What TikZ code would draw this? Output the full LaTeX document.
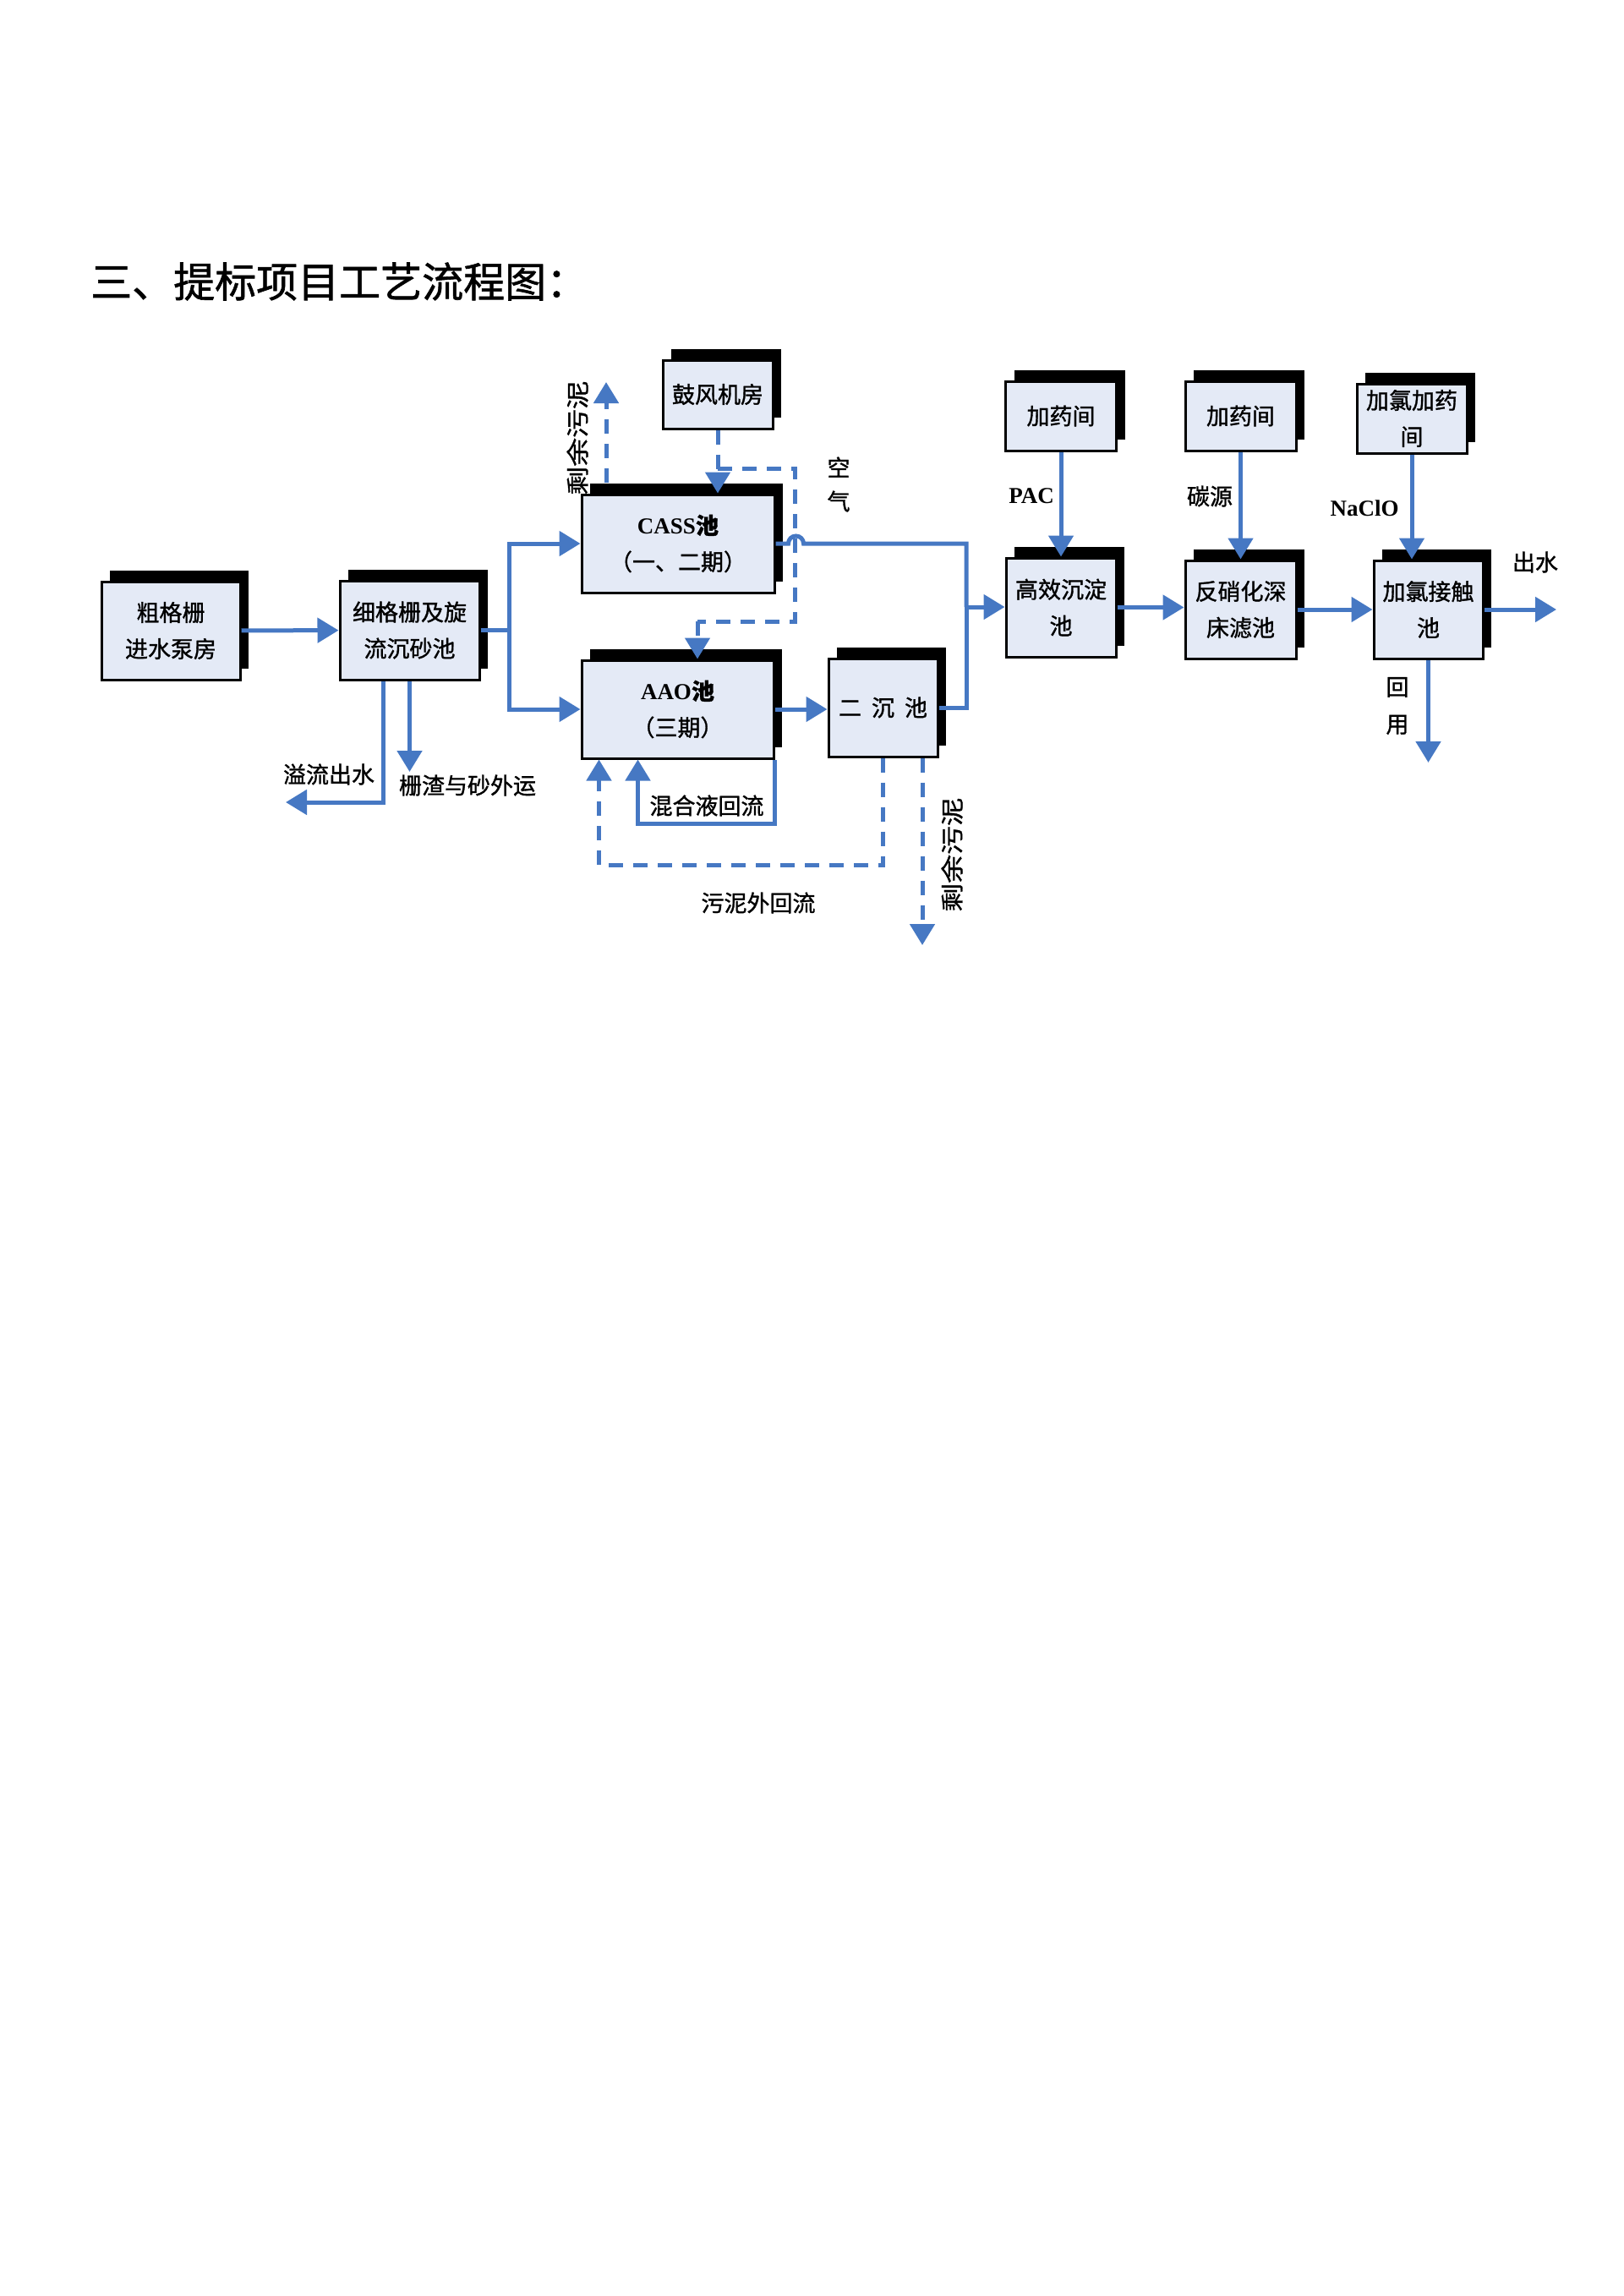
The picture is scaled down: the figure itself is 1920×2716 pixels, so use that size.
\documentclass[tikz,border=0pt]{standalone}
\usepackage{fontspec}
\setmainfont{Noto Sans CJK SC}[FakeBold=1.2]
\newfontfamily\lat{Liberation Serif}
\newfontfamily\widecjk{Noto Sans CJK SC}[FakeStretch=1.25, FakeBold=1.2]
\usepackage{tikz}
\usetikzlibrary{arrows.meta,positioning,calc,shadows}
\definecolor{flowblue}{RGB}{70,120,195}
\definecolor{boxfill}{RGB}{228,234,246}

\begin{document}
\begin{tikzpicture}[x=1pt, y=-1pt,
    box/.style={rectangle, draw, line width=3pt, fill=boxfill, inner sep=0pt, align=center, font=\fontsize{27}{43}\selectfont, general shadow={fill=black, shadow xshift=10pt, shadow yshift=13pt}},
    lbl/.style={inner sep=0pt, align=center, font=\fontsize{27}{40}\selectfont},
    flow/.style={draw=flowblue, line width=5pt},
    arrow/.style={flow, -{Triangle[length=25pt, width=29pt]}},
    dashflow/.style={flow, dash pattern=on 17pt off 12pt},
    dasharrow/.style={dashflow, -{Triangle[length=25pt, width=29pt]}}
]
\useasboundingbox (0,0) rectangle (1920,2716);

\node[anchor=west, inner sep=0pt, font=\fontsize{49}{49}\selectfont] (title) at (107,333) {三、提标项目工艺流程图：};

\node[box, minimum width=164pt, minimum height=116pt] (coarse) at (202,746) {粗格栅\\进水泵房};
\node[box, minimum width=165pt, minimum height=117pt] (fine) at (484.5,745.5) {细格栅及旋\\流沉砂池};
\node[box, minimum width=228pt, minimum height=116pt] (cass) at (802,643) {{\bfseries\lat CASS}{\bfseries 池}\\（一、二期）};
\node[box, minimum width=130pt, minimum height=81pt] (blower) at (849,466.5) {鼓风机房};
\node[box, minimum width=227pt, minimum height=116pt] (aao) at (801.5,839) {{\bfseries\lat AAO}{\bfseries 池}\\（三期）};
\node[box, minimum width=129pt, minimum height=116pt] (clar) at (1044.5,837) {二\hspace{12pt}沉\hspace{12pt}池};
\node[box, minimum width=130pt, minimum height=117pt] (hds) at (1255,718.5) {高效沉淀\\池};
\node[box, minimum width=131pt, minimum height=82pt, above=124pt of hds] (dose1) {加药间};
\node[box, minimum width=131pt, minimum height=116pt] (filter) at (1467.5,721) {反硝化深\\床滤池};
\node[box, minimum width=131pt, minimum height=82pt, above=127pt of filter] (dose2) {加药间};
\node[box, minimum width=130pt, minimum height=82pt] (dose3) at (1670,495) {加氯加药\\间};
\node[box, minimum width=129pt, minimum height=116pt] (contact) at (1689.5,721) {加氯接触\\池};

\coordinate (split) at (602,745.5);
\coordinate (join) at (1143,718);
\coordinate (airsplit) at (849,554);
\coordinate (aircorner) at (940,735);
\coordinate (sludgeup) at (717,452);
\coordinate (overflow) at (338,949);
\coordinate (screenings) at (484.5,913);
\coordinate (sludgedown) at (1091,1118);
\coordinate (effluent) at (1841,721);
\coordinate (reuse) at (1689.5,902);

\node[lbl, rotate=90, font=\widecjk\fontsize{27}{27}\selectfont] (sludgeuplbl) at (683,518) {剩余污泥};
\node[lbl] (airlbl) at (992,573) {空\\气};
\node[lbl, font=\lat\bfseries\fontsize{27}{27}\selectfont] (paclbl) at (1220,587) {PAC};
\node[lbl] (carbonlbl) at (1431,587) {碳源};
\node[lbl, font=\lat\bfseries\fontsize{27}{27}\selectfont] (naclolbl) at (1614,601) {NaClO};
\node[lbl] (outlbl) at (1816,665) {出水};
\node[lbl, font=\fontsize{27}{44}\selectfont] (reuselbl) at (1653,835) {回\\用};
\node[lbl] (overflowlbl) at (389,916) {溢流出水};
\node[lbl] (screeninglbl) at (553,929) {栅渣与砂外运};
\node[lbl] (mixlbl) at (836,953) {混合液回流};
\node[lbl] (returnlbl) at (897,1068) {污泥外回流};
\node[lbl, rotate=90, font=\widecjk\fontsize{27}{27}\selectfont] (sludgedownlbl) at (1126,1011) {剩余污泥};

\draw[arrow] (coarse) -- (fine);
\draw[flow] (fine) -- (split);
\draw[arrow] (split) |- (cass);
\draw[arrow] (split) |- (aao);
\draw[arrow] (fine.south) -- (screenings);
\draw[arrow] ($(fine.south)+(-31,0)$) |- (overflow);
\draw[flow] (cass.east) -- ++(15,0) arc[start angle=180, end angle=0, radius=9pt] -| (join);
\draw[flow] (clar) -| (join);
\draw[arrow] (join) -- (join -| hds.west);
\draw[arrow] (aao) -- (aao -| clar.west);
\draw[arrow] (hds.east) -- (hds.east -| filter.west);
\draw[arrow] (filter) -- (contact);
\draw[arrow] (contact) -- (effluent);
\draw[arrow] (contact) -- (reuse);
\draw[arrow] (dose1) -- (hds);
\draw[arrow] (dose2) -- (filter);
\draw[arrow] (dose3) -- (dose3 |- contact.north);
\draw[arrow] (aao.south east) -- ++(0,76) -| ($(aao.south west)+(68,0)$);
\draw[dasharrow] (clar.south) -- ++(0,127) -| ($(aao.south west)+(22,0)$);
\draw[dasharrow] (clar.south -| sludgedown) -- (sludgedown);
\draw[dasharrow] (blower) -- (blower |- cass.north);
\draw[dashflow] (airsplit) -| (aircorner) -- ++(-115,0) coordinate (airdrop);
\draw[dasharrow] (airdrop) -- (airdrop |- aao.north);
\draw[dasharrow, shorten <=13pt] (cass.north -| sludgeup) -- (sludgeup);

\end{tikzpicture}
\end{document}
